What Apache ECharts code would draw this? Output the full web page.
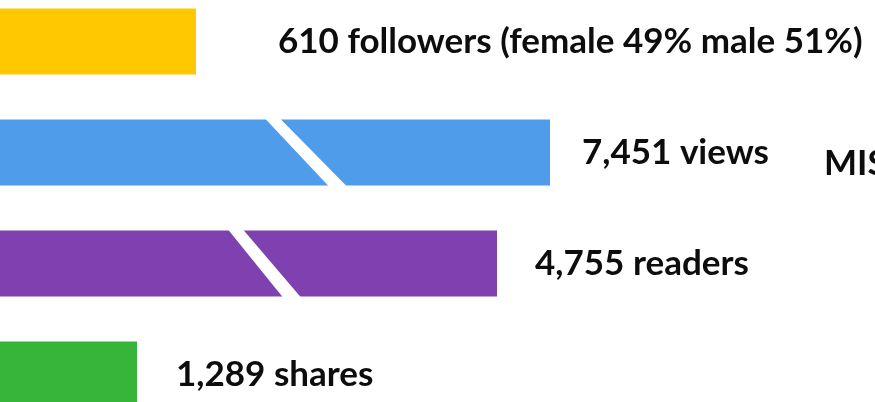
<!DOCTYPE html>
<html>
<head>
<meta charset="utf-8">
<script src="https://cdn.jsdelivr.net/npm/echarts@6/dist/echarts.min.js"></script>
<style>
html,body{margin:0;padding:0;background:#fff;width:875px;height:402px;overflow:hidden;position:relative;}
#c{position:absolute;left:0;top:-14px;width:875px;height:444px;}
</style>
</head>
<body>
<div id="c"></div>
<script>
// categories and values
const categories = ['followers', 'views', 'readers', 'shares'];
const labelTexts = ['610 followers (female 49% male 51%)', '7,451 views', '4,755 readers', '1,289 shares'];
// drawn bar lengths (infographic scale, not proportional to the counts)
const barLengths = [196, 550, 497, 137];
const barColors = ['#FFC800', '#4F9DEA', '#8041B0', '#37B53B'];
// axis-break stripes: [category index, x at top edge, x at bottom edge]
const breakStripes = [[1, 265, 329], [2, 228, 283]];
const sideNote = 'MIS';

const labelGaps = [82, 32, 38, 39];
const FONT = 'Lato, "Open Sans", sans-serif';
const OFFSET = 14; // chart canvas is shifted up by this many px

const chart = echarts.init(document.getElementById('c'));
chart.setOption({
  animation: false,
  backgroundColor: '#ffffff',
  grid: { left: 0, right: 0, top: 0, bottom: 0, containLabel: false },
  xAxis: { type: 'value', min: 0, max: 875, show: false },
  yAxis: { type: 'category', data: categories, inverse: true, show: false },
  series: [
    {
      type: 'bar',
      barWidth: 66,
      data: barLengths.map((v, i) => ({
        value: v,
        itemStyle: { color: barColors[i] },
        label: {
          show: true, position: 'right', distance: labelGaps[i],
          formatter: () => labelTexts[i],
          color: '#0d0d0d', fontSize: 35, fontWeight: 'bold', fontFamily: FONT
        }
      }))
    },
    {
      type: 'custom',
      data: breakStripes,
      z: 5,
      renderItem: (params, api) => {
        const cat = api.value(0);
        const c0 = api.coord([api.value(1), cat]);
        const c1 = api.coord([api.value(2), cat]);
        const half = 33;
        const top = c0[1] - half - 1, bot = c0[1] + half + 1;
        const w0 = 15, w1 = 18;
        return {
          type: 'polygon',
          shape: { points: [[c0[0], top], [c0[0] + w0, top], [c1[0] + w1, bot], [c1[0], bot]] },
          style: { fill: '#ffffff' }
        };
      }
    }
  ],
  graphic: [{
    type: 'text', x: 824, y: 164 + OFFSET,
    style: { text: sideNote, fill: '#0d0d0d', fontSize: 35, fontWeight: 'bold', fontFamily: FONT, align: 'left', verticalAlign: 'middle' }
  }]
});
</script>
</body>
</html>
